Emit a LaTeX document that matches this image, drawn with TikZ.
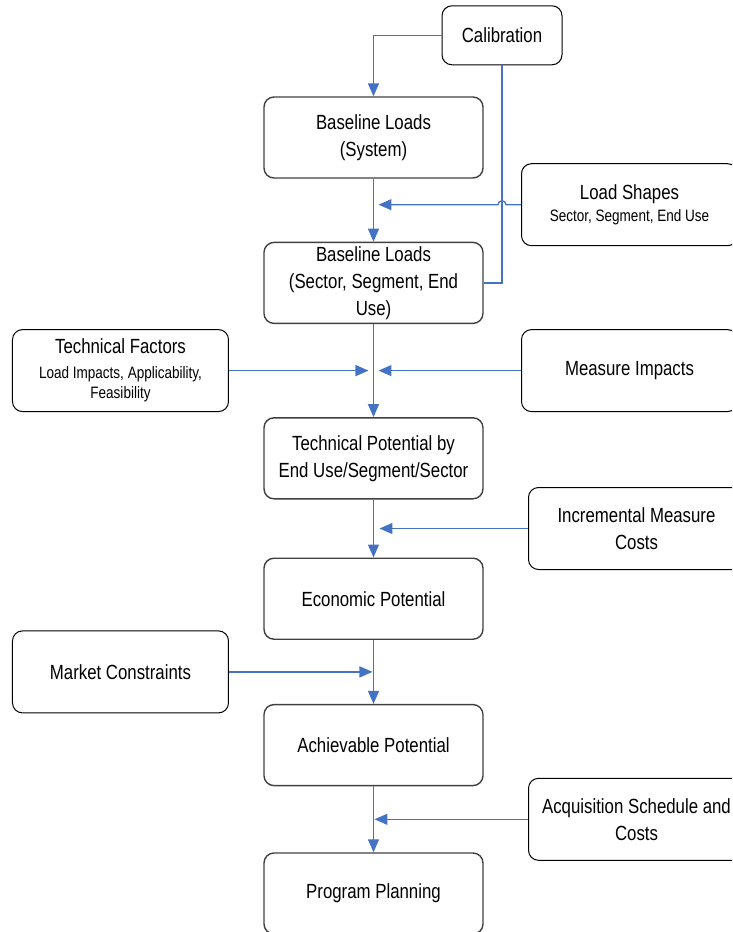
\documentclass[tikz,border=0pt]{standalone}
\usepackage{fontspec}
\setmainfont{Liberation Sans}[FakeStretch=0.82]
\usetikzlibrary{positioning,arrows.meta,calc}
\definecolor{flowblue}{HTML}{4472C4}
\definecolor{boxline}{HTML}{404040}
\newcommand{\mainsize}{\fontsize{20.5pt}{27pt}\selectfont}
\newcommand{\subsize}{\fontsize{16.5pt}{20pt}\selectfont}
\tikzset{
  stage/.style={rectangle,rounded corners=10pt,minimum width=219pt,minimum height=81pt,
    draw=boxline,line width=1.4pt,align=center,font=\mainsize,inner sep=2pt},
  source/.style={rectangle,rounded corners=10pt,minimum width=216pt,minimum height=82pt,
    draw=black,line width=1pt,align=center,font=\mainsize,inner sep=2pt},
  myarrow/.style={-{Triangle[length=13pt,width=11pt]},line width=1.3pt,flowblue},
  myline/.style={line width=1.3pt,flowblue},
}

\begin{document}
\begin{tikzpicture}
  \useasboundingbox (-373.5pt,137.5pt) rectangle (358.5pt,-794.5pt);
  \clip (-373.5pt,137.5pt) rectangle (358.5pt,-794.5pt);
  % main chain
  \node[stage] (base) {Baseline Loads\\(System)};
  \node[stage,below=63pt of base] (bsec) {Baseline Loads\\(Sector, Segment, End\\Use)};
  \node[stage,below=93pt of bsec] (tpot) {Technical Potential by\\End Use/Segment/Sector};
  \node[stage,below=58pt of tpot] (econ) {Economic Potential};
  \node[stage,below=64pt of econ] (achv) {Achievable Potential};
  \node[stage,below=66pt of achv] (prog) {Program Planning};
  \node[source,above=31pt of base,xshift=128.5pt,minimum width=120pt,minimum height=59pt] (calib) {Calibration};
  % junctions on the main line
  \coordinate (j1) at ($(base.south)!0.5!(bsec.north)$);
  \coordinate (j2) at ($(bsec.south)!0.5!(tpot.north)$);
  \coordinate (j3) at ($(tpot.south)!0.5!(econ.north)$);
  \coordinate (j4) at ($(econ.south)!0.5!(achv.north)$);
  \coordinate (j5) at ($(achv.south)!0.5!(prog.north)$);
  % inputs
  \node[source,right=147.5pt of j1,yshift=5.5pt] (lshape) {Load Shapes\\[-5pt]{\subsize Sector, Segment, End Use}};
  \node[source,left=144.5pt of j2] (tfac) {Technical Factors\\[-2pt]{\subsize Load Impacts, Applicability,}\\[-7pt]{\subsize Feasibility}};
  \node[source,right=147.5pt of j2] (mimp) {Measure Impacts};
  \node[source,right=154.5pt of j3] (icost) {Incremental Measure\\Costs};
  \node[source,left=144.5pt of j4] (mkt) {Market Constraints};
  \node[source,right=154.5pt of j5] (acq) {Acquisition Schedule and\\Costs};
  % connectors
  \draw[myarrow] (calib) -| (base);
  \draw[myline] (calib) |- (bsec);
  \draw[myarrow] (base) -- (bsec);
  \coordinate (hop) at (calib |- lshape);
  \draw[myarrow] (lshape) -- ([xshift=4pt]hop) arc[start angle=0,end angle=180,radius=4pt]
    -- ([xshift=5pt]j1 |- lshape);
  \draw[myarrow] (bsec) -- (tpot);
  \draw[myarrow] (tfac) -- ([xshift=-5pt]j2);
  \draw[myarrow] (mimp) -- ([xshift=5pt]j2);
  \draw[myarrow] (tpot) -- (econ);
  \draw[myarrow] (icost) -- ([xshift=6pt]j3);
  \draw[myarrow] (econ) -- (achv);
  \draw[myarrow] (mkt) -- ([xshift=-1pt]j4);
  \draw[myarrow] (achv) -- (prog);
  \draw[myarrow] (acq) -- ([xshift=1pt]j5);
\end{tikzpicture}
\end{document}
